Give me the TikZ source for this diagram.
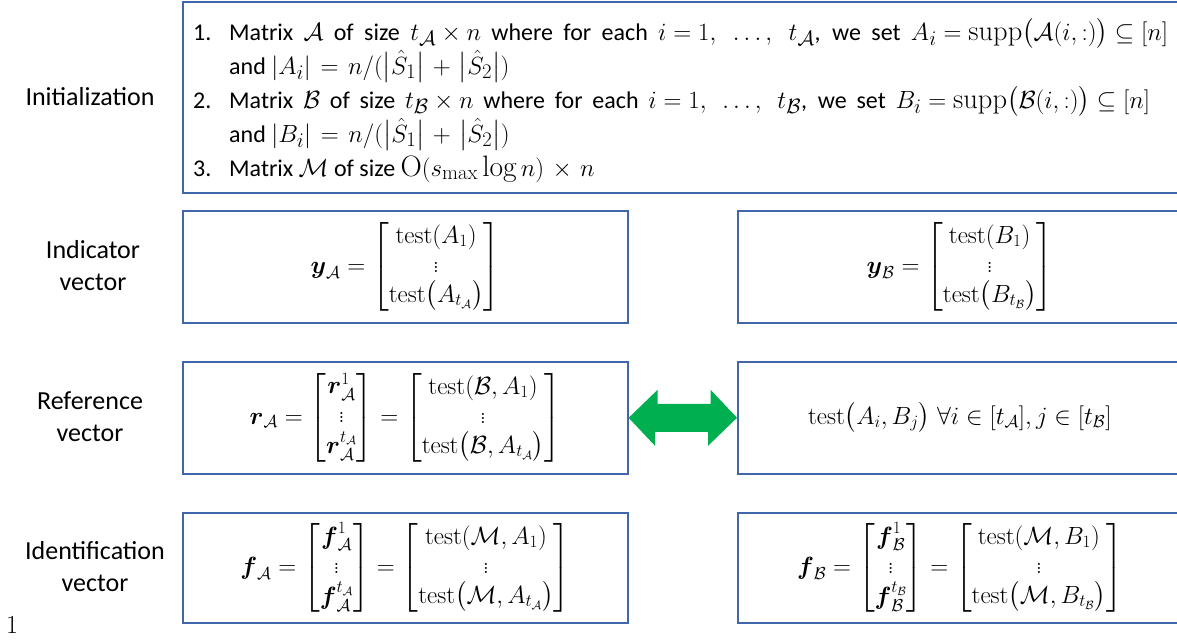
\documentclass[tikz,border=0pt]{standalone}
\usepackage{amsmath}
\usepackage{fontspec}
\setsansfont{Carlito}
\usetikzlibrary{calc}
\definecolor{boxblue}{RGB}{66,102,172}
\definecolor{arrowgreen}{RGB}{0,176,80}
\newcommand\MM[1]{{\fontsize{28.5}{34}\selectfont\thickmuskip=5mu\medmuskip=4mu$#1$}}
\newcommand\MS[1]{{\fontsize{29.5}{34}\selectfont\thickmuskip=7mu\medmuskip=6mu$#1$}}
\tikzset{
  box/.style={draw=boxblue, line width=1.6pt, rectangle, inner sep=0pt, anchor=north west},
  lbl/.style={font=\sffamily\fontsize{26}{32}\selectfont, align=center, inner sep=0pt},
  mth/.style={font=\fontsize{25}{29}\selectfont, inner sep=0pt},
}
\begin{document}
\begin{tikzpicture}[x=1pt,y=-1pt]
\useasboundingbox (0,0) rectangle (1177,641);
% boxes
\node[box, minimum width=1010, minimum height=191] (init) at (182,1) {};
\node[box, minimum width=445, minimum height=112] (indL) at (182,210) {};
\node[box, minimum width=444, minimum height=112] (indR) at (737,210) {};
\node[box, minimum width=445, minimum height=112] (refL) at (182,361) {};
\node[box, minimum width=444, minimum height=112] (refR) at (737,361) {};
\node[box, minimum width=445, minimum height=110] (idL) at (182,512) {};
\node[box, minimum width=444, minimum height=110] (idR) at (737,512) {};
% labels
\node[lbl] (l1) at (90,97) {Initialization};
\node[lbl] (l2) at (93,266) {Indicator\\vector};
\node[lbl] (l3) at (90,417) {Reference\\vector};
\node[lbl] (l4) at (95,567) {Identification\\vector};
% init text
\node[anchor=north west, inner sep=0pt, font=\sffamily\fontsize{24}{34}\selectfont, align=left] (inittxt) at (193,16) {%
\begin{tabular}{@{}p{36pt}@{}l@{}}
1. & \makebox[939pt][s]{Matrix \MM{\mathcal{A}} of size \MM{t_{\mathcal{A}}\times n} where for each \MM{i=1,\ \dots,\ t_{\mathcal{A}}}, we set \MM{A_i=\operatorname{supp}\bigl(\mathcal{A}(i,:)\bigr)\subseteq[n]}}\\
 & and \MS{|A_i|=n/(\bigl|\hat{S}_1\bigr|+\bigl|\hat{S}_2\bigr|)}\\
2. & \makebox[921pt][s]{Matrix \MM{\mathcal{B}} of size \MM{t_{\mathcal{B}}\times n} where for each \MM{i=1,\ \dots,\ t_{\mathcal{B}}}, we set \MM{B_i=\operatorname{supp}\bigl(\mathcal{B}(i,:)\bigr)\subseteq[n]}}\\
 & and \MS{|B_i|=n/(\bigl|\hat{S}_1\bigr|+\bigl|\hat{S}_2\bigr|)}\\
3. & Matrix \MS{\mathcal{M}} of size \MS{\mathrm{O}(s_{\max}\log n)\times n}
\end{tabular}};
% box contents
\node[mth] (indLtxt) at (indL.center) {$\boldsymbol{y}_{\mathcal{A}}=\begin{bmatrix}\mathrm{test}(A_1)\\ \vdots\\ \mathrm{test}\bigl(A_{t_{\mathcal{A}}}\bigr)\end{bmatrix}$};
\node[mth] (indRtxt) at (indR.center) {$\boldsymbol{y}_{\mathcal{B}}=\begin{bmatrix}\mathrm{test}(B_1)\\ \vdots\\ \mathrm{test}\bigl(B_{t_{\mathcal{B}}}\bigr)\end{bmatrix}$};
\node[mth] (refLtxt) at (refL.center) {$\boldsymbol{r}_{\mathcal{A}}=\begin{bmatrix}\boldsymbol{r}_{\mathcal{A}}^{1}\\ \vdots\\ \boldsymbol{r}_{\mathcal{A}}^{t_{\mathcal{A}}}\end{bmatrix}=\begin{bmatrix}\mathrm{test}(\mathcal{B},A_1)\\ \vdots\\ \mathrm{test}\bigl(\mathcal{B},A_{t_{\mathcal{A}}}\bigr)\end{bmatrix}$};
\node[mth] (refRtxt) at (refR.center) {$\mathrm{test}\bigl(A_i,B_j\bigr)\;\forall i\in[t_{\mathcal{A}}],j\in[t_{\mathcal{B}}]$};
\node[mth] (idLtxt) at (idL.center) {$\boldsymbol{f}_{\mathcal{A}}=\begin{bmatrix}\boldsymbol{f}_{\mathcal{A}}^{1}\\ \vdots\\ \boldsymbol{f}_{\mathcal{A}}^{t_{\mathcal{A}}}\end{bmatrix}=\begin{bmatrix}\mathrm{test}(\mathcal{M},A_1)\\ \vdots\\ \mathrm{test}\bigl(\mathcal{M},A_{t_{\mathcal{A}}}\bigr)\end{bmatrix}$};
\node[mth] (idRtxt) at (idR.center) {$\boldsymbol{f}_{\mathcal{B}}=\begin{bmatrix}\boldsymbol{f}_{\mathcal{B}}^{1}\\ \vdots\\ \boldsymbol{f}_{\mathcal{B}}^{t_{\mathcal{B}}}\end{bmatrix}=\begin{bmatrix}\mathrm{test}(\mathcal{M},B_1)\\ \vdots\\ \mathrm{test}\bigl(\mathcal{M},B_{t_{\mathcal{B}}}\bigr)\end{bmatrix}$};
% double arrow
\fill[arrowgreen] (refL.east) -- ++(29,-28) -- ++(0,14) -- ++(53,0) -- ++(0,-14) -- (refR.west) -- ++(-29,28) -- ++(0,-14) -- ++(-53,0) -- ++(0,14) -- cycle;
% page number
\node[inner sep=0pt, font=\fontsize{26}{30}\selectfont] (pg) at (12,625) {1};
\end{tikzpicture}
\end{document}
